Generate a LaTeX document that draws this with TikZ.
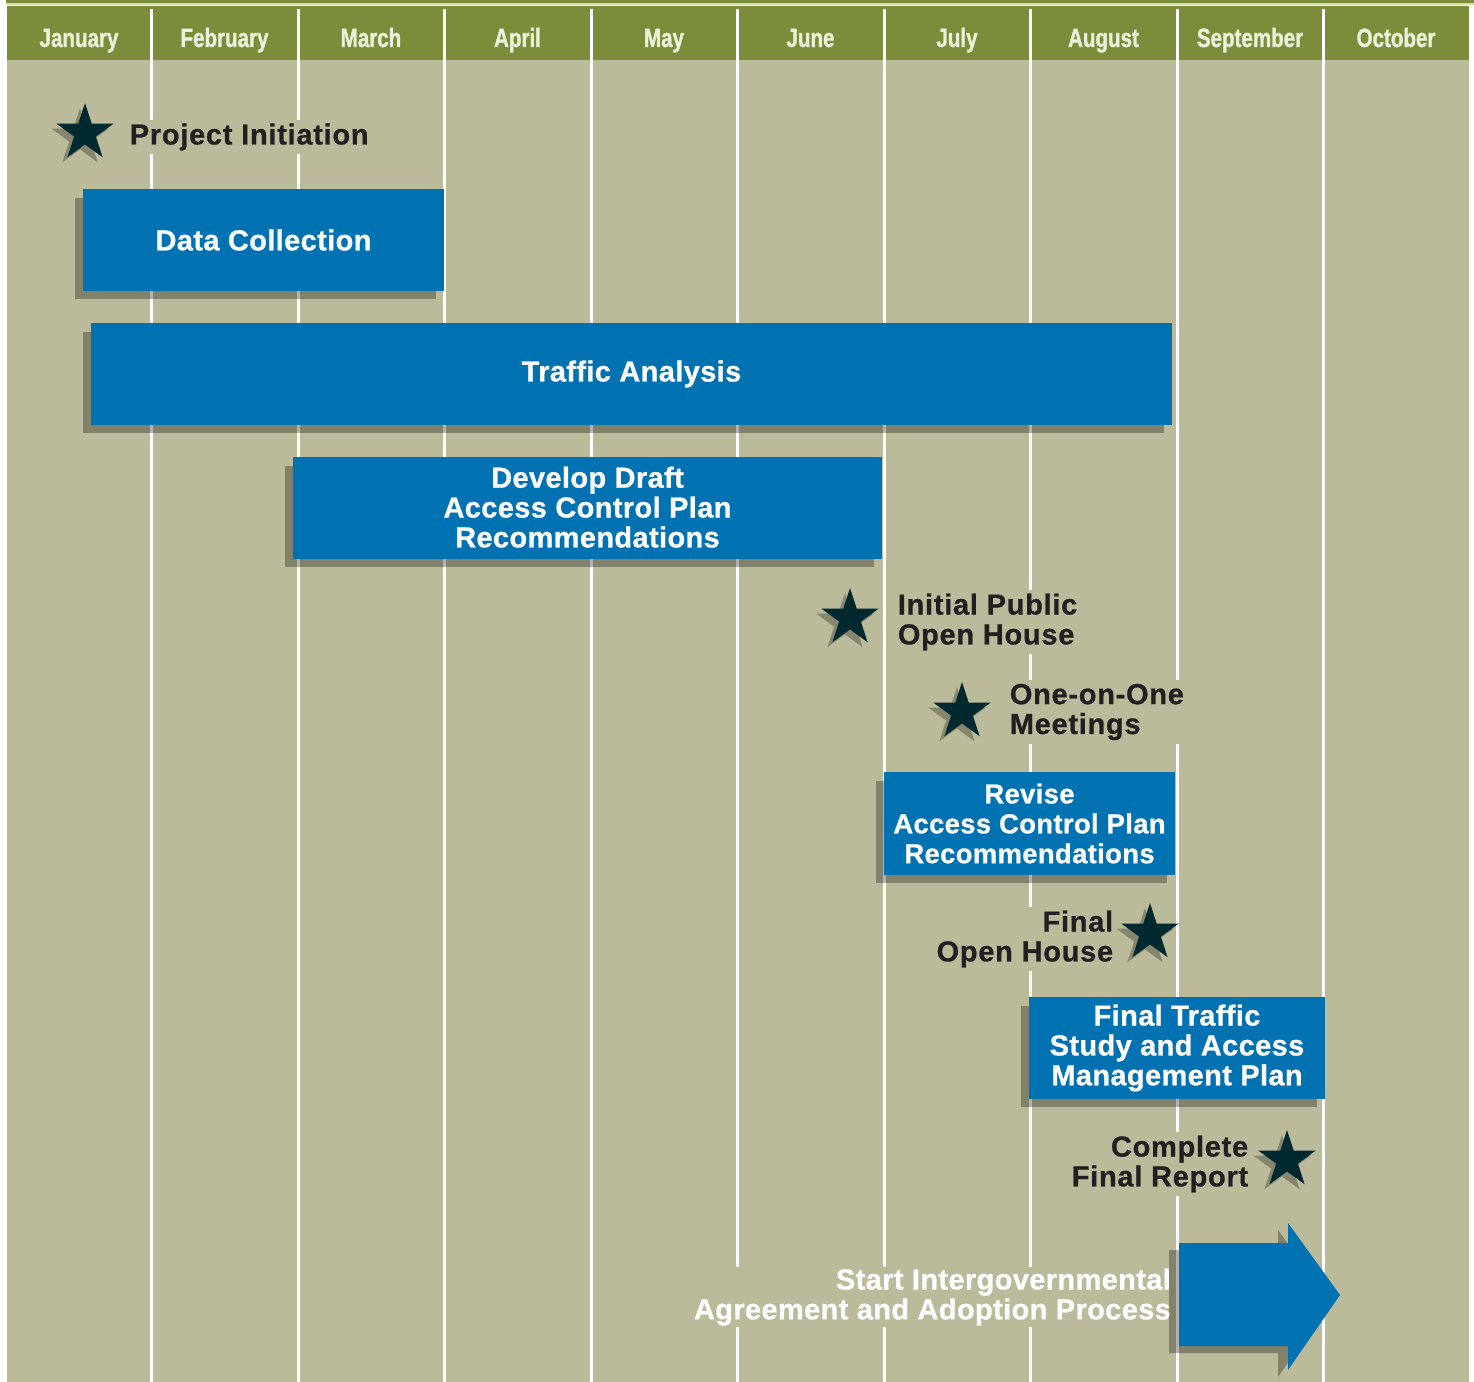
\documentclass[tikz,border=0pt]{standalone}
\usepackage{fontspec}
\usetikzlibrary{shapes.geometric,shadows,positioning}
\setmainfont[LetterSpace=1.3,FakeBold=0.8]{Liberation Sans}
\newfontfamily\mslabelfont[LetterSpace=2.5,FakeBold=0.8]{Liberation Sans}
\newfontfamily\monthfont[FakeStretch=0.78,FakeBold=1.2]{Liberation Sans}
\definecolor{fieldbg}{HTML}{BBBA9B}
\definecolor{headgreen}{HTML}{7B8C3A}
\definecolor{headpale}{HTML}{D2DFAE}
\definecolor{monthtext}{HTML}{EAF2DA}
\definecolor{taskblue}{HTML}{0072B1}
\definecolor{stardark}{HTML}{00292F}
\definecolor{labeldark}{HTML}{231F20}

\begin{document}
\begin{tikzpicture}[x=0.02cm,y=-0.02cm,
    month/.style={anchor=base,font=\monthfont\bfseries\fontsize{15}{16}\selectfont,text=monthtext},
    task/.style={rectangle,fill=taskblue,text=white,inner sep=0pt,align=center,
        font=\bfseries\fontsize{16.5}{17}\selectfont,
        general shadow={fill=black,fill opacity=0.3,shadow xshift=-0.16cm,shadow yshift=-0.17cm}},
    milestone/.style={star,star points=5,star point ratio=2.618,minimum size=1.2cm,inner sep=0pt,fill=stardark,
        general shadow={fill=black,fill opacity=0.28,shadow xshift=-0.1cm,shadow yshift=-0.1cm}},
    mslabel/.style={fill=fieldbg,inner sep=2pt,text=labeldark,
        font=\mslabelfont\bfseries\fontsize{16.5}{17}\selectfont},
    gridline/.style={white,line width=0.06cm}]
    \useasboundingbox (0,0) rectangle (1474,1382);
    \fill[headgreen] (6,0) rectangle (1474,3);
    \fill[headpale] (6,3) rectangle (1474,5.5);
    \fill[headgreen] (7,6.5) rectangle (1469,60);
    \fill[fieldbg] (7,60) rectangle (1469,1382);
    \draw[gridline] (151,9) -- (151,1382) (298,9) -- (298,1382) (444,9) -- (444,1382)
        (591,9) -- (591,1382) (737,9) -- (737,1382) (884,9) -- (884,1382)
        (1030,9) -- (1030,1382) (1177,9) -- (1177,1382) (1323,9) -- (1323,1382);

    \node(jan)[month] at (79,47) {January};
    \node(feb)[month] at (224.5,47) {February};
    \node(mar)[month] at (371,47) {March};
    \node(apr)[month] at (517.5,47) {April};
    \node(may)[month] at (664,47) {May};
    \node(jun)[month] at (810.5,47) {June};
    \node(jul)[month] at (957,47) {July};
    \node(aug)[month] at (1103.5,47) {August};
    \node(sep)[month] at (1250,47) {September};
    \node(oct)[month] at (1396,47) {October};

    \node(init)[milestone] at (85,133) {};
    \node(initl)[mslabel,anchor=west] at (126,137) {Project Initiation};

    \node(data)[task,minimum width=7.22cm,minimum height=2.04cm] at (263.5,240) {Data Collection};
    \node(traffic)[task,minimum width=21.62cm,minimum height=2.04cm] at (631.5,374) {Traffic Analysis};
    \node(draft)[task,minimum width=11.78cm,minimum height=2.04cm] at (587.5,508)
        {\raisebox{1.1pt}{Develop Draft}\\\raisebox{1.1pt}{Access Control Plan}\\\raisebox{1.1pt}{Recommendations}};

    \node(openi)[milestone] at (850,618) {};
    \node(openil)[mslabel,anchor=west,align=left] at (894,622) {Initial Public\\Open House};
    \node(meet)[milestone] at (962,712) {};
    \node(meetl)[mslabel,anchor=west,align=left] at (1006,712) {One-on-One\\Meetings};

    \node(revise)[task,minimum width=5.82cm,minimum height=2.06cm,
        font=\bfseries\fontsize{15.6}{17}\selectfont] at (1029.5,823.5)
        {Revise\\Access Control Plan\\Recommendations};

    \node(openf)[milestone] at (1150,933) {};
    \node(openfl)[mslabel,anchor=east,align=right] at (1117,939) {Final\\Open House};

    \node(final)[task,minimum width=5.92cm,minimum height=2.04cm] at (1177,1048)
        {Final Traffic\\Study and Access\\Management Plan};

    \node(report)[milestone] at (1287,1160) {};
    \node(reportl)[mslabel,anchor=east,align=right] at (1252,1164) {Complete\\Final Report};

    \node(igal)[anchor=east,align=right,text=white,fill=fieldbg,inner sep=1pt,
        font=\bfseries\fontsize{16.5}{17}\selectfont] at (1173,1297)
        {Start Intergovernmental\\Agreement and Adoption Process};
    \fill[black,fill opacity=0.3,shift={(-10,7)}] (1179,1243) -- (1288,1243) -- (1288,1223) -- (1340,1295)
        -- (1288,1370) -- (1288,1346) -- (1179,1346) -- cycle;
    \fill[taskblue] (1179,1243) -- (1288,1243) -- (1288,1223) -- (1340,1295)
        -- (1288,1370) -- (1288,1346) -- (1179,1346) -- cycle;
\end{tikzpicture}
\end{document}
